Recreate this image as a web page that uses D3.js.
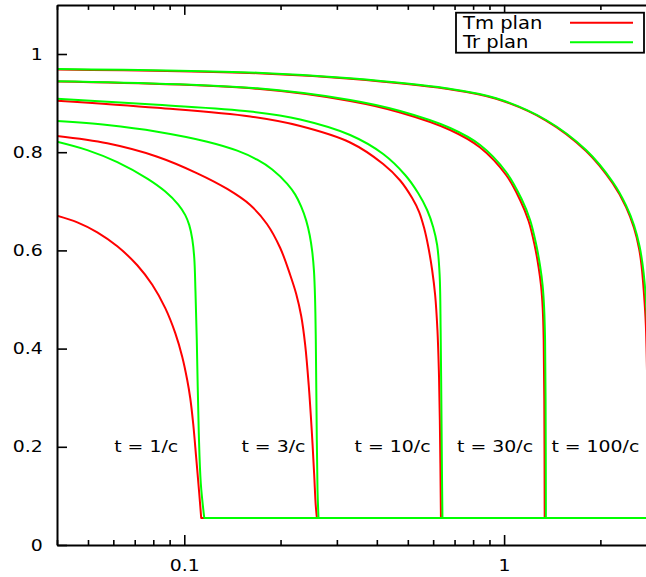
<!DOCTYPE html>
<html>
<head>
<meta charset="utf-8">
<script src="https://cdn.jsdelivr.net/npm/d3@7"></script>
<style>
  html, body { margin: 0; padding: 0; background: #fff; }
  svg { display: block; }
  text { font-family: "DejaVu Sans", sans-serif; fill: #000; }
</style>
</head>
<body>
<svg id="chart" width="646" height="577"></svg>
<script>
// ---- data (x = log scale, y = value) ----
const tm1 = [[0.04,0.6707],[0.04631,0.6572],[0.05347,0.6369],[0.06175,0.6084],[0.07130,0.5697],[0.07943,0.5299],[0.08722,0.4823],[0.09373,0.4314],[0.09857,0.3829],[0.10215,0.3360],[0.10438,0.2994],[0.10666,0.2464],[0.10898,0.1772],[0.11135,0.1059],[0.11297,0.055],[3,0.055]];
const tr1 = [[0.04,0.8214],[0.04975,0.8043],[0.06175,0.7798],[0.07662,0.7462],[0.08723,0.7198],[0.09577,0.6933],[0.10072,0.6719],[0.10366,0.6515],[0.10593,0.6228],[0.10746,0.5845],[0.10839,0.5173],[0.10942,0.4175],[0.11101,0.2281],[0.11261,0.1263],[0.11548,0.055],[3,0.055]];
const tm3 = [[0.04,0.8330],[0.05744,0.8181],[0.08234,0.7908],[0.10980,0.7570],[0.13625,0.7251],[0.16077,0.6925],[0.18132,0.6538],[0.19953,0.6049],[0.21440,0.5499],[0.22387,0.5112],[0.23207,0.4664],[0.23884,0.4073],[0.24495,0.3259],[0.25030,0.2342],[0.25483,0.1426],[0.25760,0.0815],[0.25983,0.055],[3,0.055]];
const tr3 = [[0.04,0.8635],[0.05744,0.8554],[0.08234,0.8418],[0.11799,0.8214],[0.14643,0.8031],[0.16909,0.7847],[0.18836,0.7648],[0.20988,0.7356],[0.22231,0.7136],[0.23207,0.6892],[0.24059,0.6607],[0.24673,0.6308],[0.25119,0.5978],[0.25446,0.5574],[0.25648,0.4990],[0.25778,0.4175],[0.25927,0.2546],[0.26096,0.1120],[0.26284,0.055],[3,0.055]];
const tm10 = [[0.04,0.9049],[0.08234,0.8904],[0.16077,0.8727],[0.23041,0.8534],[0.33006,0.8198],[0.41869,0.7760],[0.47315,0.7424],[0.51582,0.7067],[0.54258,0.6782],[0.56234,0.6456],[0.57870,0.6090],[0.59566,0.5601],[0.60867,0.5092],[0.61882,0.4379],[0.62508,0.3564],[0.62959,0.2546],[0.63460,0.055],[3,0.055]];
const tr10 = [[0.04,0.9090],[0.08234,0.8965],[0.16077,0.8829],[0.23041,0.8666],[0.33006,0.8350],[0.41869,0.7963],[0.49045,0.7536],[0.53840,0.7169],[0.57455,0.6823],[0.59996,0.6477],[0.61749,0.6110],[0.62869,0.5499],[0.63323,0.4379],[0.63643,0.2953],[0.63918,0.1527],[0.64150,0.055],[3,0.055]];
const tm30 = [[0.04,0.9438],[0.16909,0.9291],[0.33006,0.9043],[0.47315,0.8809],[0.67828,0.8452],[0.84140,0.8096],[1.01449,0.7536],[1.12202,0.7026],[1.19279,0.6599],[1.24543,0.6110],[1.28166,0.5662],[1.30512,0.5275],[1.32024,0.4827],[1.32977,0.4175],[1.33552,0.2953],[1.33937,0.055],[3,0.055]];
const tr30 = [[0.04,0.9444],[0.16909,0.9301],[0.33006,0.9063],[0.47315,0.8839],[0.67828,0.8493],[0.84140,0.8147],[1.01449,0.7597],[1.13426,0.7047],[1.20576,0.6619],[1.25893,0.6130],[1.29569,0.5682],[1.31915,0.5295],[1.33352,0.4847],[1.34315,0.4175],[1.34800,0.2953],[1.35091,0.055],[3,0.055]];
const tm100 = [[0.04,0.9685],[0.16909,0.9609],[0.33006,0.9495],[0.65887,0.9291],[0.94406,0.9088],[1.35254,0.8645],[1.80383,0.8024],[2.18661,0.7363],[2.40594,0.6884],[2.54829,0.6456],[2.64196,0.6039],[2.68984,0.5692],[2.73482,0.5153],[2.77447,0.4481],[2.81838,0.2342],[2.84893,0.055],[3,0.055]];
const tr100 = [[0.04,0.9695],[0.16909,0.9619],[0.33006,0.9505],[0.65887,0.9301],[0.94406,0.9098],[1.35254,0.8656],[1.80383,0.8045],[2.18661,0.7393],[2.40594,0.6918],[2.54829,0.6511],[2.65146,0.6086],[2.70935,0.5719],[2.75256,0.5316],[2.78849,0.4766],[2.82893,0.2953],[2.88030,0.055],[3,0.055]];

const tmSeries = [tm1, tm3, tm10, tm30, tm100];
const trSeries = [tr1, tr3, tr10, tr30, tr100];

const labelTexts = ["t = 1/c", "t = 3/c", "t = 10/c", "t = 30/c", "t = 100/c"];
const labelX = [0.076, 0.190, 0.448, 0.937, 1.929];
const labelY = 0.2;

const xMajorTicks = [0.1, 1];
const xMinorTicks = [0.04,0.05,0.06,0.07,0.08,0.09,0.2,0.3,0.4,0.5,0.6,0.7,0.8,0.9,2,3];
const yTicks = [0, 0.2, 0.4, 0.6, 0.8, 1];

const legendNames = ["Tm plan", "Tr plan"];
const colors = { tm: "#ff0000", tr: "#00ff00" };

// ---- layout ----
const SX = 1.18; // horizontal text stretch seen in the reference
const svg = d3.select("#chart");
const pL = 57, pR = 656.7, pT = 4.9, pB = 545;
const x = d3.scaleLog().domain([0.04, 3]).range([pL, pR]);
const y = d3.scaleLinear().domain([0, 1.1]).range([pB, pT]);

svg.append("defs").append("clipPath").attr("id", "clip")
  .append("rect").attr("x", pL).attr("y", pT).attr("width", pR - pL).attr("height", pB - pT);

// curves: smooth part (catmull-rom) + straight floor segment
const smooth = d3.line().x(d => x(d[0])).y(d => y(d[1])).curve(d3.curveCatmullRom.alpha(0.5));
const curves = svg.append("g").attr("clip-path", "url(#clip)");
function drawSeries(list, cls, color) {
  curves.selectAll("path." + cls).data(list).join("path")
    .attr("class", cls)
    .attr("d", s => smooth(s.slice(0, -1)) + "L" + x(s[s.length - 1][0]) + "," + y(s[s.length - 1][1]))
    .attr("fill", "none").attr("stroke", color).attr("stroke-width", 2)
    .attr("stroke-linejoin", "round");
}
drawSeries(tmSeries, "tm", colors.tm);
drawSeries(trSeries, "tr", colors.tr);

// axes
function styleAxis(g) {
  g.selectAll("path.domain").attr("stroke", "#000").attr("stroke-width", 2);
  g.selectAll(".tick line").attr("stroke", "#000").attr("stroke-width", 1.6);
}
// bottom major
const gb = svg.append("g").attr("transform", `translate(0,${pB})`)
  .call(d3.axisBottom(x).tickValues(xMajorTicks).tickFormat(d3.format("~g"))
        .tickSizeInner(-10).tickSizeOuter(0).tickPadding(15));
styleAxis(gb);
gb.selectAll(".tick text").attr("font-size", 16).attr("font-family", "DejaVu Sans")
  .attr("transform", `scale(${SX},1)`);
// bottom minor
const gbm = svg.append("g").attr("transform", `translate(0,${pB})`)
  .call(d3.axisBottom(x).tickValues(xMinorTicks).tickFormat("").tickSizeInner(-5).tickSizeOuter(0));
gbm.select("path.domain").remove();
styleAxis(gbm);
// top major + minor
const gt = svg.append("g").attr("transform", `translate(0,${pT})`)
  .call(d3.axisTop(x).tickValues(xMajorTicks).tickFormat("").tickSizeInner(-10).tickSizeOuter(0));
styleAxis(gt);
const gtm = svg.append("g").attr("transform", `translate(0,${pT})`)
  .call(d3.axisTop(x).tickValues(xMinorTicks).tickFormat("").tickSizeInner(-5).tickSizeOuter(0));
gtm.select("path.domain").remove();
styleAxis(gtm);
// left
const gl = svg.append("g").attr("transform", `translate(${pL},0)`)
  .call(d3.axisLeft(y).tickValues(yTicks).tickFormat(d3.format("~g"))
        .tickSizeInner(-10).tickSizeOuter(0).tickPadding(12));
styleAxis(gl);
gl.selectAll(".tick text").attr("font-size", 16).attr("font-family", "DejaVu Sans")
  .attr("transform", `scale(${SX},1)`);

// in-plot labels
svg.append("g").selectAll("g").data(labelTexts).join("g")
  .attr("transform", (d, i) => `translate(${x(labelX[i])},${y(labelY)}) scale(${SX},1)`)
  .append("text").attr("text-anchor", "middle").attr("dy", "0.35em")
  .attr("font-size", 16).text(d => d);

// legend
const lg = svg.append("g");
lg.append("rect").attr("x", 456).attr("y", 12.7).attr("width", 188).attr("height", 40)
  .attr("fill", "#fff").attr("stroke", "#000").attr("stroke-width", 1.8);
const legendColors = [colors.tm, colors.tr];
legendNames.forEach((name, i) => {
  const yy = 22.7 + i * 19.6;
  lg.append("g").attr("transform", `translate(463,${yy + 6}) scale(1.15,1)`)
    .append("text").attr("font-size", 17).text(name);
  lg.append("line").attr("x1", 570).attr("x2", 633).attr("y1", yy).attr("y2", yy)
    .attr("stroke", legendColors[i]).attr("stroke-width", 2);
});
</script>
</body>
</html>
